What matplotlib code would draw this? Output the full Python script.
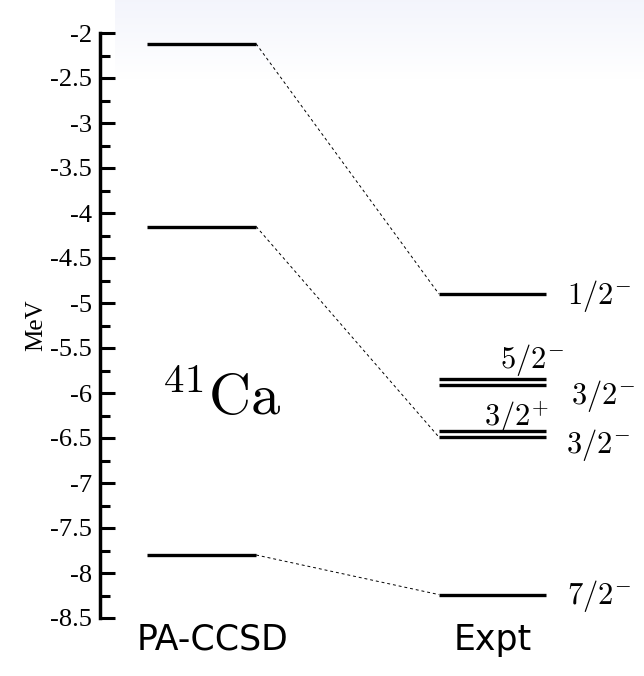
# Schema dei livelli di 41Ca: PA-CCSD contro esperimento
import numpy as np
import matplotlib
matplotlib.use("Agg")
import matplotlib.pyplot as plt

plt.rcParams["mathtext.fontset"] = "cm"
plt.rcParams["font.family"] = "Liberation Serif"

# livelli (MeV)
calc_levels = [-2.12, -4.15, -7.80]
expt_levels = [-4.90, -5.84, -5.91, -6.425, -6.49, -8.24]
expt_labels = [r"$1/2^{-}$", r"$5/2^{-}$", r"$3/2^{-}$",
               r"$3/2^{+}$", r"$3/2^{-}$", r"$7/2^{-}$"]
# collegamenti calcolo -> esperimento (indici)
links = [(0, 0), (1, 4), (2, 5)]

# posizione delle etichette (x in frazione, y in MeV)
label_pos = [(0.858, -4.92), (0.735, -5.63), (0.865, -6.03),
             (0.706, -6.27), (0.857, -6.58), (0.858, -8.26)]

fig = plt.figure(figsize=(6.44, 6.76), dpi=100)

# leggero sfondo sfumato in alto (come nella slide)
bg = fig.add_axes([115 / 644, 1 - 80 / 676, 1 - 115 / 644, 80 / 676], zorder=-5)
grad = np.linspace(1, 0, 50)[:, None]
bgcol = np.ones((50, 2, 3))
bgcol[:, :, 0] = 1 - 0.045 * grad
bgcol[:, :, 1] = 1 - 0.040 * grad
bgcol[:, :, 2] = 1 - 0.012 * grad
bg.imshow(bgcol, aspect="auto", extent=[0, 1, 0, 1])
bg.axis("off")

ax = fig.add_axes([100 / 644, 58 / 676, 544 / 644, 585 / 676])
ax.patch.set_alpha(0)
ax.set_xlim(0, 1)
ax.set_ylim(-8.5, -2)

x_calc = (0.086, 0.287)
x_expt = (0.623, 0.820)
for e in calc_levels:
    ax.plot(x_calc, [e, e], color="black", lw=2.4, solid_capstyle="butt")
for e in expt_levels:
    ax.plot(x_expt, [e, e], color="black", lw=2.4, solid_capstyle="butt")
for i, j in links:
    ax.plot([x_calc[1], x_expt[0]], [calc_levels[i], expt_levels[j]],
            color="black", lw=0.7, ls=(0, (3, 3)))

for lab, (x, y) in zip(expt_labels, label_pos):
    ax.text(x, y, lab, fontsize=22, va="center", ha="left")

ax.text(0.223, -6.07, r"$^{41}\mathrm{Ca}$", fontsize=42, ha="center", va="center")

for s in ["top", "right", "bottom"]:
    ax.spines[s].set_visible(False)
ax.spines["left"].set_linewidth(2.5)
ax.set_xticks([])
ticks = np.arange(-8.5, -1.9, 0.5)
ax.set_yticks(ticks)
ax.set_yticklabels([f"{v:g}" for v in ticks], fontfamily="Liberation Serif")
ax.set_yticks(np.arange(-8.25, -2.0, 0.5), minor=True)
ax.tick_params(axis="y", which="major", direction="in", length=11, width=2.2,
               pad=6, labelsize=19)
ax.tick_params(axis="y", which="minor", direction="in", length=7, width=2.2)
for t in ax.get_yticklabels():
    t.set_fontfamily("Liberation Serif")
ax.set_ylabel("MeV", fontsize=18, labelpad=2)

fig.text(213 / 644, 1 - 640 / 676, "PA-CCSD", fontsize=25, ha="center",
         va="center", family="DejaVu Sans")
fig.text(493 / 644, 1 - 640 / 676, "Expt", fontsize=25, ha="center",
         va="center", family="DejaVu Sans")

plt.savefig("out.png", dpi=100)
